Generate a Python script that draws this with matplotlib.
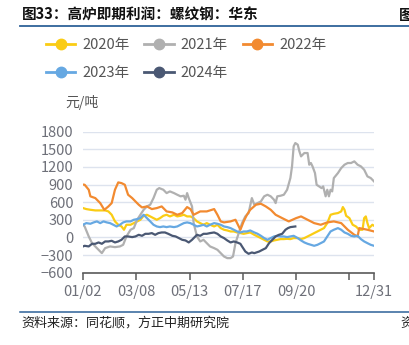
import matplotlib
matplotlib.use("Agg")
import matplotlib.pyplot as plt
from matplotlib.lines import Line2D

plt.rcParams['font.family'] = ['Noto Sans CJK SC', 'DejaVu Sans']

# ---------------- data ----------------
n_categories = 356
tick_index = [0, 65, 130, 195, 260, 325, 355]
tick_labels = ["01/02", "03/08", "05/13", "07/17", "09/20", "", "12/31"]
y_ticks = [-600, -300, 0, 300, 600, 900, 1200, 1500, 1800]

x2020 = [0, 4, 9, 15, 21, 27, 31, 35, 39, 43, 47, 50, 53, 58, 62, 66, 70, 74, 78, 82, 86, 90, 94, 98,
         102, 106, 111, 115, 119, 123, 127, 131, 135, 139, 143, 147, 151, 155, 160, 164, 168, 172, 176,
         180, 184, 188, 192, 196, 200, 204, 209, 213, 217, 221, 225, 229, 233, 237, 241, 245, 249, 253,
         257, 262, 266, 270, 274, 278, 282, 286, 290, 294, 298, 302, 306, 311, 315, 317, 319, 321, 325,
         329, 333, 337, 341, 343, 345, 347, 349, 351, 353, 355]
y2020 = [500, 483, 471, 460, 460, 460, 443, 386, 273, 216, 187, 131, 216, 216, 244, 273, 301, 369, 386,
         358, 329, 301, 329, 369, 386, 358, 386, 358, 369, 386, 358, 358, 329, 273, 244, 216, 244, 216,
         187, 216, 159, 131, 119, 102, 102, 85, 74, 62, 74, 85, 45, 17, -11, -40, -68, -68, -51, -40,
         -28, -28, -23, -28, -11, -11, -28, -11, 17, 45, 74, 102, 131, 159, 244, 386, 403, 415, 443,
         517, 471, 369, 329, 216, 187, 131, 131, 329, 358, 244, 159, 187, 216, 199]

x2021 = [0, 2, 7, 11, 17, 23, 27, 33, 39, 45, 49, 53, 58, 62, 66, 70, 74, 78, 82, 86, 90, 93, 98, 102,
         106, 111, 115, 119, 123, 125, 127, 129, 133, 135, 139, 143, 147, 151, 155, 160, 164, 168, 172,
         176, 180, 183, 186, 190, 194, 198, 202, 206, 209, 213, 217, 221, 225, 229, 233, 235, 237, 241,
         245, 249, 253, 255, 257, 259, 262, 264, 266, 270, 274, 276, 278, 280, 283, 285, 288, 291, 293,
         296, 298, 300, 302, 304, 306, 311, 315, 319, 323, 327, 331, 335, 339, 343, 347, 351, 355]
y2021 = [216, 187, 17, -97, -182, -267, -182, -153, -165, -153, -125, 17, 131, 159, 301, 386, 471,
         528, 557, 670, 812, 840, 812, 755, 784, 755, 727, 700, 710, 642, 755, 670, 528, 244, 17, -68,
         -40, -97, -153, -182, -210, -267, -324, -352, -352, -324, -97, 74, 244, 358, 415, 670, 557,
         585, 613, 700, 727, 700, 642, 585, 700, 710, 727, 812, 1011, 1210, 1551, 1607, 1579, 1465,
         1380, 1437, 1437, 1238, 1267, 1210, 1096, 897, 869, 840, 869, 700, 812, 700, 812, 784, 1011,
         1096, 1181, 1238, 1267, 1267, 1295, 1238, 1210, 1153, 1039, 1011, 954]

x2022 = [0, 2, 7, 9, 15, 21, 26, 31, 35, 39, 43, 47, 51, 55, 60, 64, 68, 72, 78, 84, 90, 96, 102, 109,
         115, 121, 127, 131, 135, 143, 151, 160, 164, 168, 172, 180, 186, 192, 196, 200, 204, 211, 217,
         223, 229, 235, 243, 251, 260, 266, 274, 282, 290, 298, 306, 315, 323, 331, 335, 337, 347, 355]
y2022 = [900, 897, 812, 700, 670, 585, 470, 528, 585, 812, 937, 925, 897, 727, 670, 613, 557, 511,
         528, 483, 500, 528, 443, 426, 386, 415, 517, 483, 386, 443, 443, 483, 386, 273, 256, 273, 301,
         131, 273, 386, 471, 557, 574, 528, 471, 386, 329, 273, 329, 358, 301, 244, 216, 256, 273, 244,
         131, 45, 17, 159, 131, 102]

x2023 = [0, 4, 9, 13, 17, 21, 25, 29, 33, 37, 41, 45, 49, 53, 58, 62, 66, 70, 74, 78, 82, 86, 90, 94,
         98, 102, 106, 111, 115, 119, 123, 127, 131, 135, 139, 143, 147, 151, 155, 160, 164, 168, 172,
         176, 180, 184, 188, 192, 196, 200, 204, 209, 213, 217, 221, 225, 229, 233, 237, 241, 245, 249,
         253, 257, 262, 266, 270, 274, 278, 282, 286, 290, 294, 298, 302, 306, 311, 315, 319, 323, 327,
         331, 335, 339, 343, 347, 351, 355]
y2023 = [216, 244, 233, 256, 273, 244, 273, 256, 244, 216, 187, 216, 256, 273, 273, 301, 312, 329,
         386, 329, 273, 216, 187, 176, 187, 176, 187, 176, 187, 216, 244, 256, 244, 216, 187, 199, 216,
         187, 216, 244, 233, 216, 187, 176, 159, 131, 102, 85, 102, 102, 119, 85, 62, 28, -11, -40,
         -11, 17, 28, 17, 17, 6, 17, 28, -11, -51, -85, -108, -125, -142, -125, -97, -68, 17, 102, 131,
         159, 131, 85, 62, 28, 17, 28, -28, -68, -97, -125, -142]

x2024 = [0, 2, 7, 11, 15, 19, 23, 27, 31, 35, 39, 43, 47, 51, 55, 60, 64, 68, 72, 76, 80, 84, 88, 92,
         96, 100, 104, 109, 113, 117, 121, 125, 129, 133, 139, 143, 147, 151, 155, 160, 164, 168, 172,
         176, 180, 184, 188, 192, 194, 198, 202, 206, 209, 215, 219, 223, 227, 231, 235, 239, 243, 247,
         250, 253, 259]
y2024 = [-153, -142, -153, -108, -108, -85, -108, -68, -68, -57, -85, -68, -40, 17, 17, 6, 17, 45,
         28, 62, 62, 74, 45, 74, 85, 85, 62, 28, 17, -11, -40, -51, -85, -40, 45, 28, 62, 62, 74, 85,
         62, 17, -11, -51, -85, -68, -85, -108, -153, -239, -278, -256, -267, -239, -210, -182, -97,
         -40, 17, 45, 62, 131, 159, 176, 187]

series_names = ["2020年", "2021年", "2022年", "2023年", "2024年"]
series_colors = ["#FACC14", "#B0B0B0", "#F28A30", "#66A8E2", "#4A5873"]

# ---------------- figure ----------------
fig = plt.figure(figsize=(4.10, 3.45), dpi=100)
W, H = 410.0, 345.0

ax = fig.add_axes([83 / W, 1 - 272.7 / H, (374 - 83) / W, (272.7 - 131.7) / H])

series = [(x2020, y2020), (x2021, y2021), (x2022, y2022), (x2023, y2023), (x2024, y2024)]
for (xs, ys), c in zip(series, series_colors):
    ax.plot(xs, ys, color=c, lw=1.6, solid_joinstyle='round', zorder=3)

ax.set_xlim(0, n_categories - 1)
ax.set_ylim(-600, 1800)
ax.set_yticks(y_ticks)
ax.set_xticks(tick_index)
ax.set_xticklabels(tick_labels)
ax.grid(axis='y', color='#DDE3EE', lw=1.0, zorder=0)
for s in ['left', 'right', 'top']:
    ax.spines[s].set_visible(False)
ax.spines['bottom'].set_color('#5A5A5A')
ax.spines['bottom'].set_linewidth(1.2)
ax.tick_params(axis='y', length=0, pad=7, labelsize=10.5, labelcolor='#6E7079')
ax.tick_params(axis='x', length=5, width=1.1, color='#5A5A5A', pad=4, labelsize=10.5,
               labelcolor='#6E7079')

fig.text(65 / W, 1 - 103 / H, "元/吨", fontsize=10, color='#555555', ha='left', va='center')

# legend (row-major order across 3 columns)
handles = [Line2D([0], [0], color=c, lw=2, marker='o', markersize=7.5) for c in series_colors]
order = [0, 3, 1, 4, 2]
fig.legend([handles[i] for i in order], [series_names[i] for i in order],
           loc='upper left', bbox_to_anchor=(46 / W, 1 - 38 / H),
           ncol=3, frameon=False, fontsize=10.5, handlelength=2.0, handletextpad=0.5,
           columnspacing=1.0, labelspacing=0.95, borderpad=0, borderaxespad=0,
           labelcolor='#555555')

# title and decorations
fig.text(22 / W, 1 - 15 / H, "图33：高炉即期利润：螺纹钢：华东", fontsize=10.5, fontweight='bold',
         color='#111111', ha='left', va='center')
fig.text(399 / W, 1 - 15 / H, "图", fontsize=10.5, fontweight='bold', color='#111111',
         ha='left', va='center')
fig.add_artist(Line2D([20 / W, 1], [1 - 26 / H, 1 - 26 / H], color='#2E6299', lw=1.3))
fig.add_artist(Line2D([20 / W, 1], [1 - 311.5 / H, 1 - 311.5 / H], color='#2E6299', lw=1.1))
fig.text(21 / W, 1 - 323 / H, "资料来源：同花顺，方正中期研究院", fontsize=9.4, style='italic',
         color='#222222', ha='left', va='center')
fig.text(400 / W, 1 - 323 / H, "资", fontsize=9.4, style='italic', color='#222222',
         ha='left', va='center')

fig.savefig("out.png", dpi=100)
